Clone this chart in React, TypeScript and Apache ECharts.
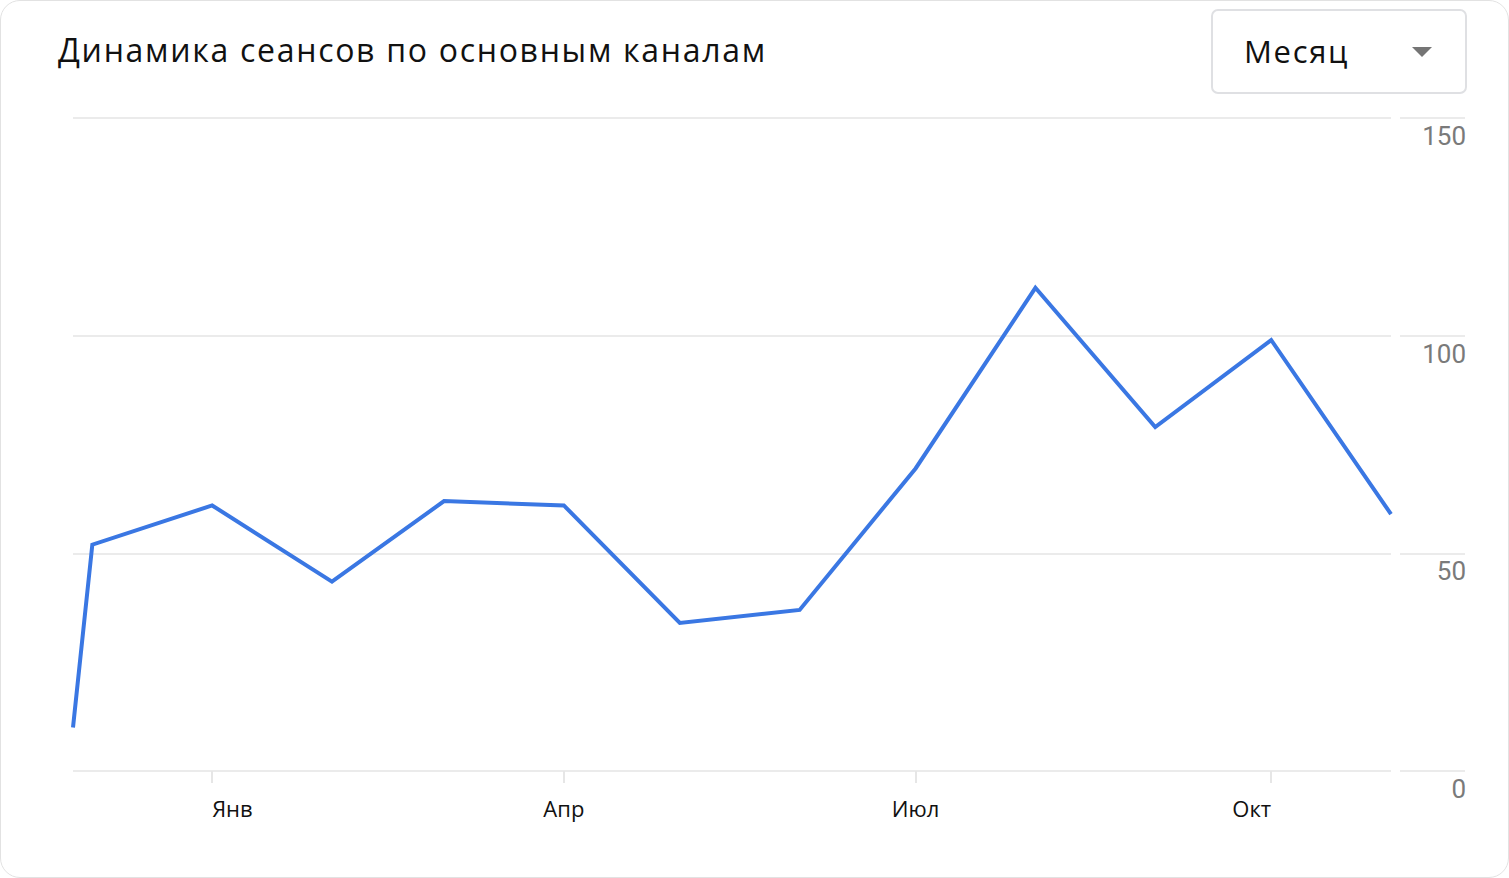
import { useEffect, useRef } from "react";
import * as echarts from "echarts";

// Sessions by day of report (first point is a partial week before December)
const dates = [
  "2023-11-26", "2023-12-01", "2024-01-01", "2024-02-01", "2024-03-01", "2024-04-01", "2024-05-01",
  "2024-06-01", "2024-07-01", "2024-08-01", "2024-09-01", "2024-10-01", "2024-11-01",
];
const sessions = [10, 52, 61, 43.5, 62, 61, 34, 37, 69.5, 111, 79, 99, 59];

const tickDates = ["2024-01-01", "2024-04-01", "2024-07-01", "2024-10-01"];
const tickLabels = ["Янв", "Апр", "Июл", "Окт"];

const yTicks = [0, 50, 100, 150];

const TITLE = "Динамика сеансов по основным каналам";
const PERIOD = "Месяц";

function Header() {
  return (
    <>
      <div
        style={{
          position: "absolute",
          left: 57,
          top: 33,
          fontFamily: "'Open Sans'",
          fontSize: 32,
          lineHeight: "32px",
          letterSpacing: 1.7,
          color: "#111",
          whiteSpace: "nowrap",
          zIndex: 2,
        }}
      >
        {TITLE}
      </div>
      <div
        style={{
          position: "absolute",
          left: 1210,
          top: 8,
          width: 256,
          height: 85,
          boxSizing: "border-box",
          border: "2px solid #dfe0e3",
          borderRadius: 7,
          background: "#fff",
          zIndex: 2,
        }}
      >
        <span
          style={{
            position: "absolute",
            left: 31,
            top: 25,
            fontFamily: "'Open Sans'",
            fontSize: 31,
            lineHeight: "31px",
            letterSpacing: 1.7,
            color: "#111",
          }}
        >
          {PERIOD}
        </span>
        <span
          style={{
            position: "absolute",
            left: 199,
            top: 36,
            width: 0,
            height: 0,
            borderLeft: "10px solid transparent",
            borderRight: "10px solid transparent",
            borderTop: "10px solid #757575",
          }}
        />
      </div>
    </>
  );
}

export default function App() {
  const ref = useRef<HTMLDivElement>(null);

  useEffect(() => {
    if (!ref.current) return;
    const chart = echarts.init(ref.current, null, { renderer: "svg" });

    const ts = dates.map((d) => Date.parse(d));
    const tickTs = tickDates.map((d) => Date.parse(d));

    chart.setOption({
      animation: false,
      backgroundColor: "transparent",
      grid: { left: 73, right: 118, top: 118, bottom: 107 },
      xAxis: {
        type: "value",
        min: ts[0],
        max: ts[ts.length - 1],
        axisLine: { show: false },
        splitLine: { show: false },
        axisTick: {
          show: true,
          customValues: tickTs,
          length: 12,
          lineStyle: { color: "#e6e6e6", width: 2 },
        },
        axisLabel: {
          customValues: tickTs,
          margin: 26,
          fontFamily: "Open Sans",
          fontSize: 22,
          color: "#111",
          alignMinLabel: "left",
          alignMaxLabel: "right",
          formatter: (v: number) => tickLabels[tickTs.indexOf(v)] ?? "",
        },
      },
      yAxis: {
        type: "value",
        position: "right",
        offset: 9,
        min: yTicks[0],
        max: yTicks[yTicks.length - 1],
        interval: 50,
        axisLine: { show: false },
        axisTick: {
          show: true,
          inside: false,
          length: 65,
          lineStyle: { color: "#ebebeb", width: 2 },
        },
        splitLine: { lineStyle: { color: "#ebebeb", width: 2 } },
        axisLabel: {
          margin: 66,
          align: "right",
          verticalAlign: "top",
          padding: [5, 0, 0, 0],
          fontFamily: "Roboto",
          fontSize: 26,
          color: "#7a7a7a",
        },
      },
      series: [
        {
          type: "line",
          data: ts.map((t, i) => [t, sessions[i]]),
          showSymbol: false,
          lineStyle: { color: "#3a77e3", width: 4, join: "miter" },
          itemStyle: { color: "#3a77e3" },
        },
      ],
    });

    return () => chart.dispose();
  }, []);

  return (
    <div
      style={{
        position: "fixed",
        left: 0,
        top: 0,
        width: 1509,
        height: 878,
        boxSizing: "border-box",
        border: "1px solid #e2e2e2",
        borderRadius: 20,
        background: "#fff",
        overflow: "hidden",
      }}
    >
      <div ref={ref} style={{ position: "absolute", left: -1, top: -1, width: 1509, height: 878 }} />
      <Header />
    </div>
  );
}
